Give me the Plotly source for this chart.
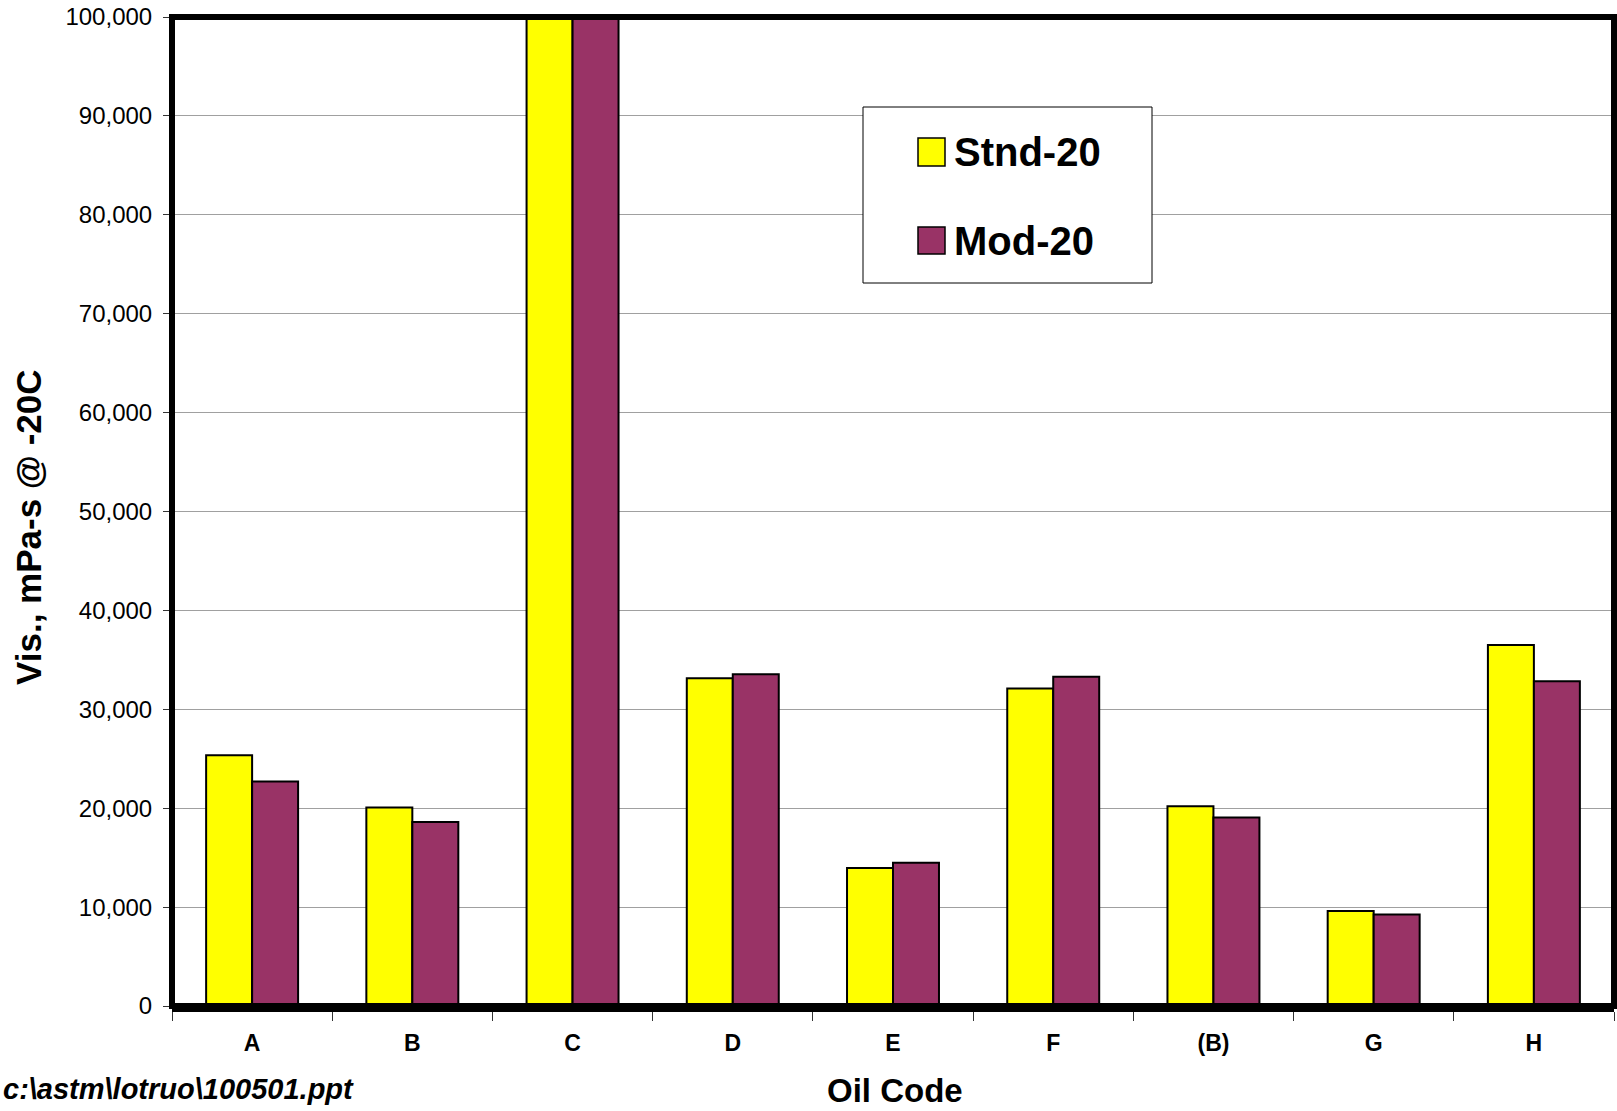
import plotly.graph_objects as go

# ---- data ----
oil_codes = ["A", "B", "C", "D", "E", "F", "(B)", "G", "H"]
series_names = ["Stnd-20", "Mod-20"]
stnd_20 = [25350, 20060, 105000, 33150, 13950, 32100, 20190, 9600, 36490]
mod_20 = [22690, 18600, 105000, 33550, 14490, 33280, 19050, 9260, 32840]
y_tick_vals = [0, 10000, 20000, 30000, 40000, 50000, 60000, 70000, 80000, 90000, 100000]
colors = ["#FFFF00", "#993366"]

W, H = 1617, 1111
L, R, T, B = 172, 3, 17, 105
PW, PH = W - L - R, H - T - B


def px_x(p):
    return (p - L) / PW


def px_y(p):
    return (H - B - p) / PH


FONT = "Liberation Sans, Arial, sans-serif"

fig = go.Figure()
for name, vals, col in zip(series_names, [stnd_20, mod_20], colors):
    fig.add_trace(go.Bar(
        x=oil_codes, y=vals, name=name,
        marker=dict(color=col, line=dict(color="black", width=2)),
        showlegend=False,
    ))

fig.update_layout(
    width=W, height=H,
    margin=dict(l=L, r=R, t=T, b=B, pad=0),
    paper_bgcolor="white", plot_bgcolor="white",
    barmode="group", bargap=0.426, bargroupgap=0,
    font=dict(family=FONT, color="black"),
)

fig.update_xaxes(
    type="category",
    showline=True, linecolor="black", linewidth=6,
    ticks="outside", tickson="boundaries", ticklen=9, tickwidth=1, tickcolor="#333",
    tickfont=dict(size=23, family=FONT, color="black", weight="bold"),
    ticklabelstandoff=11,
    showgrid=False,
)
fig.update_yaxes(
    range=[0, 100000],
    tickvals=y_tick_vals, tickformat=",d",
    ticks="outside", ticklen=8, tickwidth=1, tickcolor="#333",
    tickfont=dict(size=24, family=FONT, color="black"),
    ticklabelstandoff=6,
    showgrid=True, gridcolor="#a0a0a0", gridwidth=1,
    zeroline=False, showline=False,
)

# frame
fig.add_shape(type="rect", xref="paper", yref="paper", x0=0, x1=1, y0=0, y1=1,
              line=dict(color="black", width=6), layer="above")

# legend (manual, for large swatches)
fig.add_shape(type="rect", xref="paper", yref="paper",
              x0=px_x(863), x1=px_x(1152), y0=px_y(283), y1=px_y(107),
              line=dict(color="black", width=1), fillcolor="white", layer="above")
sw_rows = [(138, 166), (227, 254)]
for (top, bot), name, col in zip(sw_rows, series_names, colors):
    fig.add_shape(type="rect", xref="paper", yref="paper",
                  x0=px_x(918), x1=px_x(945), y0=px_y(bot), y1=px_y(top),
                  line=dict(color="black", width=1.5), fillcolor=col, layer="above")
    fig.add_annotation(xref="paper", yref="paper", x=px_x(952), y=px_y((top + bot) / 2),
                       text="<b>%s</b>" % name, showarrow=False, xanchor="left", yanchor="middle",
                       font=dict(size=40, family=FONT, color="black"))

# axis titles
fig.add_annotation(xref="paper", yref="paper", x=px_x(28), y=px_y(527),
                   text="<b>Vis., mPa-s @ -20C</b>", textangle=-90, showarrow=False,
                   xanchor="center", yanchor="middle",
                   font=dict(size=35, family=FONT, color="black"))
fig.add_annotation(xref="paper", yref="paper", x=px_x(895), y=px_y(1090),
                   text="<b>Oil Code</b>", showarrow=False,
                   xanchor="center", yanchor="middle",
                   font=dict(size=33, family=FONT, color="black"))
# footnote
fig.add_annotation(xref="paper", yref="paper", x=px_x(1), y=px_y(1089),
                   text="<b><i>c:\\astm\\lotruo\\100501.ppt</i></b>", showarrow=False,
                   xanchor="left", yanchor="middle",
                   font=dict(size=29, family=FONT, color="black"))

fig.write_html("out.html")
